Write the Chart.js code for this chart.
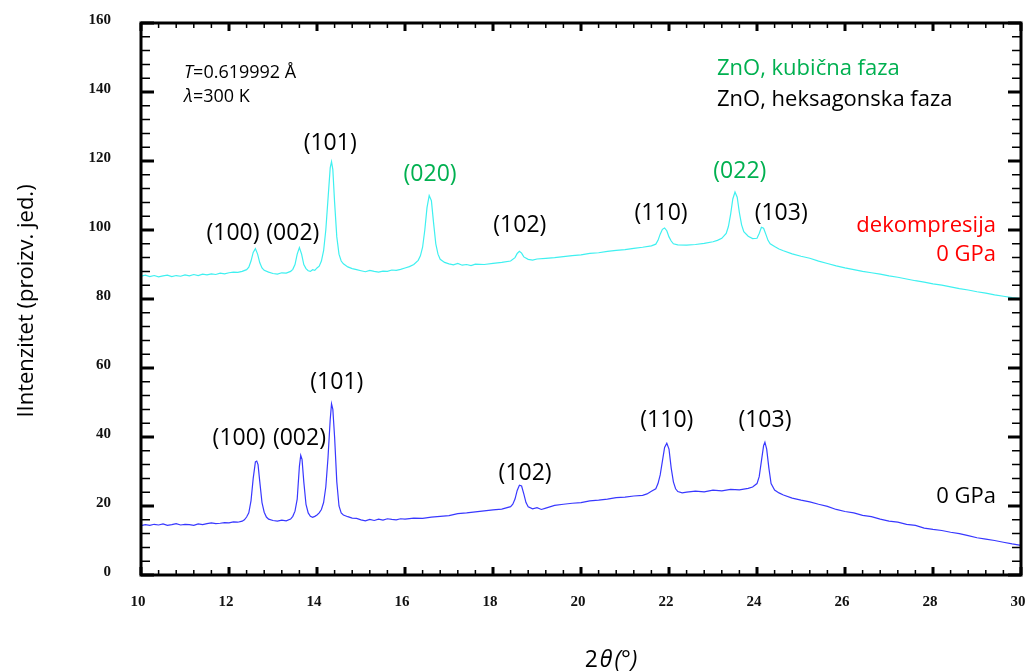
<!DOCTYPE html>
<html lang="hr">
<head>
<meta charset="UTF-8">
<title>ZnO XRD</title>
<script src="https://cdn.jsdelivr.net/npm/chart.js"></script>
<style>
    body { margin: 0; background: #fff; }
    .wrap { width: 1030px; height: 672px; position: relative; }
</style>
</head>
<body>
<div class="wrap"><canvas id="xrd"></canvas></div>
<script>
// 0 GPa (donja krivulja)
const blueX = [10.0,10.1,10.2,10.3,10.4,10.5,10.6,10.7,10.8,10.9,11.0,11.1,11.2,11.3,11.4,11.5,11.6,11.7,11.8,11.9,12.0,12.1,12.2,12.3,12.35,12.4,12.45,12.5,12.55,12.6,12.63,12.66,12.7,12.75,12.8,12.85,12.9,13.0,13.1,13.2,13.3,13.4,13.45,13.5,13.55,13.6,13.63,13.66,13.7,13.75,13.8,13.85,13.9,13.95,14.0,14.05,14.1,14.15,14.2,14.25,14.3,14.33,14.36,14.4,14.45,14.5,14.55,14.6,14.7,14.8,14.9,15.0,15.1,15.2,15.3,15.4,15.5,15.6,15.7,15.8,15.9,16.0,16.2,16.4,16.6,16.8,17.0,17.2,17.4,17.6,17.8,18.0,18.2,18.4,18.45,18.5,18.55,18.6,18.65,18.7,18.75,18.8,18.9,19.0,19.1,19.2,19.4,19.6,19.8,20.0,20.2,20.4,20.6,20.8,21.0,21.2,21.4,21.5,21.6,21.7,21.75,21.8,21.85,21.9,21.95,22.0,22.05,22.1,22.15,22.2,22.3,22.4,22.6,22.8,23.0,23.2,23.4,23.6,23.8,23.9,24.0,24.05,24.1,24.15,24.18,24.22,24.27,24.32,24.4,24.5,24.6,24.8,25.0,25.2,25.4,25.6,25.8,26.0,26.2,26.4,26.6,26.8,27.0,27.2,27.4,27.6,27.8,28.0,28.2,28.4,28.6,28.8,29.0,29.2,29.4,29.6,29.8,30.0];
const blueY = [14.3,14.6,14.4,14.7,14.5,14.8,14.4,14.6,14.9,14.5,14.7,14.6,14.4,14.8,14.6,14.9,15.1,14.9,15.0,15.2,15.1,15.4,15.3,15.6,16.0,16.8,18.0,21.5,28.0,32.8,33.0,32.0,27.0,21.0,18.2,16.8,16.2,15.8,15.6,15.9,15.7,16.2,17.0,18.5,22.0,31.5,34.7,33.5,27.0,20.5,18.0,17.0,16.7,17.0,17.4,18.0,19.0,21.0,25.5,34.0,45.0,49.6,48.0,40.0,27.0,20.0,18.0,17.4,16.9,16.5,16.4,16.0,15.7,16.1,15.8,16.2,15.9,16.3,16.1,16.0,16.3,16.2,16.5,16.4,16.8,17.0,17.2,17.8,18.0,18.3,18.6,18.9,19.1,19.8,20.5,22.0,24.5,26.0,25.8,23.5,21.0,19.8,19.2,19.5,19.0,19.4,20.2,20.5,20.8,21.0,21.5,21.7,22.0,22.4,22.6,22.9,23.1,23.5,24.3,25.0,26.5,29.0,33.0,37.0,38.2,36.5,31.0,27.0,25.0,24.2,23.8,24.0,24.3,24.1,24.6,24.4,24.8,24.7,25.1,25.5,26.5,28.5,33.0,37.5,38.5,36.5,31.0,26.5,24.6,23.8,23.2,22.3,21.7,21.2,20.5,19.9,19.0,18.4,18.0,17.3,16.9,16.2,15.6,15.3,14.7,14.4,13.6,13.2,12.9,12.4,12.0,11.4,10.8,10.4,10.0,9.5,9.0,8.6];

// dekompresija 0 GPa (gornja krivulja)
const cyanX = [10.0,10.1,10.2,10.3,10.4,10.5,10.6,10.7,10.8,10.9,11.0,11.1,11.2,11.3,11.4,11.5,11.6,11.7,11.8,11.9,12.0,12.1,12.2,12.3,12.4,12.45,12.5,12.55,12.6,12.65,12.7,12.75,12.8,12.9,13.0,13.1,13.2,13.3,13.4,13.45,13.5,13.55,13.6,13.65,13.7,13.75,13.8,13.85,13.9,13.95,14.0,14.05,14.1,14.15,14.2,14.25,14.3,14.33,14.36,14.4,14.45,14.5,14.55,14.6,14.7,14.8,14.9,15.0,15.1,15.2,15.3,15.4,15.5,15.6,15.7,15.8,15.9,16.0,16.1,16.2,16.3,16.35,16.4,16.45,16.5,16.55,16.6,16.65,16.7,16.75,16.8,16.9,17.0,17.1,17.2,17.3,17.4,17.5,17.6,17.8,18.0,18.2,18.4,18.5,18.55,18.6,18.65,18.7,18.8,18.9,19.0,19.2,19.4,19.6,19.8,20.0,20.2,20.4,20.6,20.8,21.0,21.2,21.4,21.6,21.7,21.75,21.8,21.85,21.9,21.95,22.0,22.05,22.1,22.2,22.4,22.6,22.8,23.0,23.1,23.2,23.3,23.35,23.4,23.45,23.5,23.55,23.6,23.65,23.7,23.8,23.9,24.0,24.05,24.1,24.15,24.2,24.25,24.3,24.4,24.5,24.6,24.8,25.0,25.2,25.4,25.6,25.8,26.0,26.2,26.4,26.6,26.8,27.0,27.2,27.4,27.6,27.8,28.0,28.2,28.4,28.6,28.8,29.0,29.2,29.4,29.6,29.8,30.0];
const cyanY = [86.6,86.9,86.5,86.8,86.4,86.7,86.9,86.5,86.8,86.6,87.0,86.7,87.1,86.8,87.2,87.0,87.3,87.1,87.5,87.3,87.6,87.8,87.7,88.0,88.5,89.2,91.0,93.5,94.6,93.0,90.5,89.0,88.3,87.8,87.4,87.2,87.6,87.5,88.0,88.6,90.0,93.0,94.9,93.0,90.0,88.8,88.2,88.0,88.5,88.3,89.0,89.5,91.0,94.0,100.0,109.0,118.0,119.8,117.5,108.0,98.0,93.0,91.0,90.2,89.3,88.8,88.5,88.2,87.9,88.3,88.0,87.8,88.1,88.0,88.4,88.3,88.6,89.0,89.4,90.0,91.2,92.5,95.0,100.0,106.5,110.0,108.5,102.0,96.0,93.0,91.5,90.6,90.2,89.9,90.3,89.8,90.0,89.7,90.1,90.0,90.3,90.6,91.0,92.0,93.2,93.8,93.3,92.2,91.5,91.3,91.6,91.8,92.0,92.3,92.6,92.8,93.2,93.4,93.8,94.1,94.3,94.7,95.0,95.4,95.9,97.0,98.8,100.2,100.6,99.8,98.0,96.8,96.0,95.7,95.6,95.8,96.1,96.6,97.0,97.6,99.0,101.0,104.5,109.0,111.0,109.5,105.0,101.5,99.5,98.2,97.5,97.6,99.0,100.8,100.5,98.8,97.0,96.0,95.2,94.5,94.0,93.1,92.4,91.8,91.0,90.3,89.6,89.0,88.5,88.0,87.6,87.2,86.7,86.3,85.8,85.3,84.9,84.4,84.0,83.5,83.0,82.6,82.1,81.7,81.2,80.8,80.4,80.1];

const xTicks = [10, 12, 14, 16, 18, 20, 22, 24, 26, 28, 30];
const yTicks = [0, 20, 40, 60, 80, 100, 120, 140, 160];

// oznake refleksa: [tekst, 2theta, intenzitet, boja]
const peakLabels = [
    ['(100)', 12.09, 99.1, '#000'],
    ['(002)', 13.45, 99.1, '#000'],
    ['(101)', 14.30, 125.2, '#000'],
    ['(020)', 16.57, 116.2, '#00b050'],
    ['(102)', 18.61, 101.2, '#000'],
    ['(110)', 21.82, 104.9, '#000'],
    ['(022)', 23.61, 117.1, '#00b050'],
    ['(103)', 24.55, 104.9, '#000'],
    ['(100)', 12.23, 39.6, '#000'],
    ['(002)', 13.60, 39.6, '#000'],
    ['(101)', 14.45, 55.7, '#000'],
    ['(102)', 18.73, 29.5, '#000'],
    ['(110)', 21.95, 44.9, '#000'],
    ['(103)', 24.18, 44.9, '#000']
];

const toPoints = (xs, ys) => xs.map((x, i) => ({ x: x, y: ys[i] }));

const FONT = '"Open Sans", "Noto Sans", sans-serif';

const framePlugin = {
    id: 'frame',
    afterDraw(chart) {
        const ctx = chart.ctx;
        const xs = chart.scales.x, ys = chart.scales.y;
        const a = chart.chartArea;
        ctx.save();
        ctx.strokeStyle = '#000';

        // ticks (inward, on all four sides)
        for (let v = 10; v <= 30.001; v += 0.4) {
            const px = xs.getPixelForValue(v);
            const major = Math.abs(v / 2 - Math.round(v / 2)) < 0.01;
            ctx.lineWidth = major ? 3 : 1.5;
            const len = major ? 8 : 5;
            ctx.beginPath();
            ctx.moveTo(px, a.bottom); ctx.lineTo(px, a.bottom - len);
            ctx.moveTo(px, a.top); ctx.lineTo(px, a.top + len);
            ctx.stroke();
        }
        for (let v = 0; v <= 160.001; v += 4) {
            const py = ys.getPixelForValue(v);
            const major = v % 20 === 0;
            ctx.lineWidth = major ? 3 : 1.5;
            const len = major ? 13 : 9;
            ctx.beginPath();
            ctx.moveTo(a.left, py); ctx.lineTo(a.left + len, py);
            ctx.moveTo(a.right, py); ctx.lineTo(a.right - len, py);
            ctx.stroke();
        }

        // frame
        ctx.lineWidth = 3;
        ctx.strokeRect(a.left, a.top, a.right - a.left, a.bottom - a.top);

        // tick labels
        ctx.fillStyle = '#111';
        ctx.font = 'bold 15px "Liberation Serif", "DejaVu Serif", serif';
        ctx.textAlign = 'center';
        ctx.textBaseline = 'middle';
        xTicks.forEach(v => ctx.fillText(String(v), xs.getPixelForValue(v) - 3, a.bottom + 27));
        ctx.textAlign = 'right';
        yTicks.forEach(v => ctx.fillText(String(v), a.left - 30, ys.getPixelForValue(v) - 3));

        // peak labels
        ctx.textAlign = 'center';
        ctx.font = '23px ' + FONT;
        peakLabels.forEach(l => {
            ctx.fillStyle = l[3];
            ctx.fillText(l[0], xs.getPixelForValue(l[1]), ys.getPixelForValue(l[2]));
        });

        // legend-like texts
        ctx.textAlign = 'left';
        ctx.font = '22px ' + FONT;
        ctx.fillStyle = '#00b050';
        ctx.fillText('ZnO, kubična faza', xs.getPixelForValue(23.09), ys.getPixelForValue(146.7));
        ctx.fillStyle = '#000';
        ctx.fillText('ZnO, heksagonska faza', xs.getPixelForValue(23.09), ys.getPixelForValue(137.9));

        ctx.textAlign = 'right';
        ctx.font = '22px ' + FONT;
        ctx.fillStyle = '#ff0000';
        ctx.fillText('dekompresija', xs.getPixelForValue(29.43), ys.getPixelForValue(101.2));
        ctx.fillText('0 GPa', xs.getPixelForValue(29.43), ys.getPixelForValue(92.8));
        ctx.fillStyle = '#000';
        ctx.fillText('0 GPa', xs.getPixelForValue(29.43), ys.getPixelForValue(22.6));

        // T and lambda
        ctx.textAlign = 'left';
        const tx = xs.getPixelForValue(10.98);
        let ty = ys.getPixelForValue(145.5);
        ctx.font = 'italic 18px ' + FONT;
        ctx.fillText('T', tx, ty);
        let w = ctx.measureText('T').width;
        ctx.font = '18px ' + FONT;
        ctx.fillText('=0.619992 Å', tx + w, ty);
        ty = ys.getPixelForValue(138.6);
        ctx.font = 'italic 18px ' + FONT;
        ctx.fillText('λ', tx, ty);
        w = ctx.measureText('λ').width;
        ctx.font = '18px ' + FONT;
        ctx.fillText('=300 K', tx + w, ty);

        // axis titles
        ctx.font = '22px ' + FONT;
        ctx.fillStyle = '#000';
        ctx.save();
        ctx.translate(27, 301);
        ctx.rotate(-Math.PI / 2);
        ctx.textAlign = 'center';
        ctx.fillText('IIntenzitet (proizv. jed.)', 0, 0);
        ctx.restore();

        const parts = [['2', '23px '], ['θ', 'italic 23px '], ['(°)', 'italic 23px ']];
        let total = 0;
        parts.forEach(p => { ctx.font = p[1] + FONT; total += ctx.measureText(p[0]).width + 2; });
        let cx = 612 - total / 2;
        ctx.textAlign = 'left';
        parts.forEach(p => {
            ctx.font = p[1] + FONT;
            ctx.fillText(p[0], cx, 660);
            cx += ctx.measureText(p[0]).width + 2;
        });
        ctx.restore();
    }
};

new Chart(document.getElementById('xrd'), {
    type: 'line',
    data: {
        datasets: [
            {
                label: 'dekompresija 0 GPa',
                data: toPoints(cyanX, cyanY),
                borderColor: '#3ff0f0',
                borderWidth: 1.2,
                pointRadius: 0,
                tension: 0
            },
            {
                label: '0 GPa',
                data: toPoints(blueX, blueY),
                borderColor: '#3838ff',
                borderWidth: 1.2,
                pointRadius: 0,
                tension: 0
            }
        ]
    },
    options: {
        responsive: true,
        maintainAspectRatio: false,
        animation: false,
        layout: { padding: { left: 141, right: 9, top: 23, bottom: 97 } },
        plugins: { legend: { display: false }, tooltip: { enabled: false } },
        scales: {
            x: { type: 'linear', min: 10, max: 30, display: false },
            y: { type: 'linear', min: 0, max: 160, display: false }
        }
    },
    plugins: [framePlugin]
});
</script>
</body>
</html>
